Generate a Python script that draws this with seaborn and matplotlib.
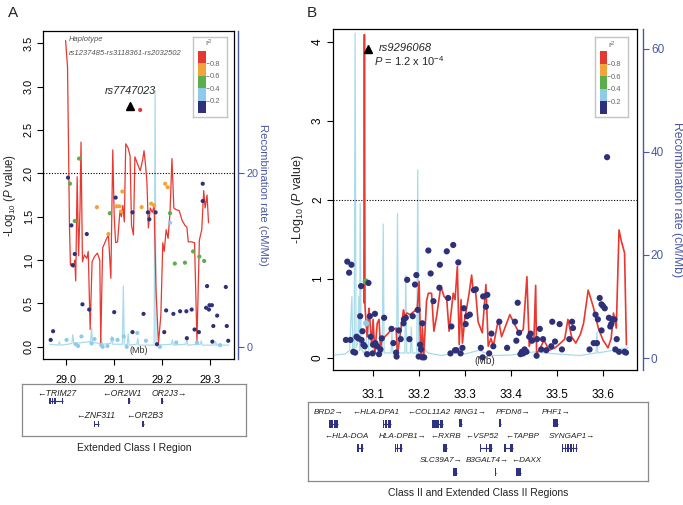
import matplotlib
matplotlib.use("Agg")
import matplotlib.pyplot as plt
import numpy as np
import pandas as pd
import seaborn as sns

# ---------------- panel A : extended class I region ----------------
a_snp_pos = [29.005, 29.009, 29.028, 29.012, 29.019, 29.019, 29.015, 29.065, 29.044, 29.035,
             29.049, 28.969, 28.974, 29.002, 29.021, 29.026, 29.033, 29.054, 29.060, 29.074,
             29.077, 29.087, 29.097, 29.089, 29.092, 29.104, 29.101, 29.108, 29.118, 29.106,
             29.112, 29.115, 29.121, 29.127, 29.139, 29.139, 29.149, 29.162, 29.158, 29.171,
             29.174, 29.167, 29.178, 29.184, 29.187, 29.190, 29.196, 29.205, 29.209, 29.207,
             29.212, 29.217, 29.217, 29.224, 29.230, 29.227, 29.238, 29.248, 29.251, 29.252,
             29.262, 29.265, 29.268, 29.273, 29.277, 29.278, 29.285, 29.285, 29.288, 29.294,
             29.292, 29.298, 29.299, 29.304, 29.305, 29.307, 29.315, 29.321, 29.333, 29.335,
             29.338, 29.155]
a_snp_logp = [1.95, 1.88, 2.17, 1.40, 1.45, 1.07, 0.94, 1.61, 1.30, 0.49,
              0.43, 0.08, 0.18, 0.08, 0.03, 0.01, 0.12, 0.04, 0.09, 0.02,
              0.00, 0.01, 0.09, 1.30, 1.54, 1.72, 0.40, 0.08, 1.79, 1.62,
              1.62, 1.56, 0.12, 0.00, 1.55, 0.17, 0.16, 0.38, 1.61, 1.55,
              1.47, 0.07, 1.65, 1.63, 1.55, 0.03, 0.00, 0.17, 0.42, 1.88,
              1.84, 1.54, 1.43, 0.38, 0.05, 0.96, 0.41, 0.97, 0.41, 0.10,
              0.43, 1.10, 0.20, 0.05, 0.17, 1.04, 1.88, 1.68, 0.99, 0.70,
              0.45, 0.43, 0.48, 0.48, 0.06, 0.24, 0.36, 0.02, 0.69, 0.24,
              0.07, 2.73]
a_snp_r2 = [0.1, 0.5, 0.5, 0.1, 0.5, 0.1, 0.1, 0.7, 0.1, 0.1,
            0.1, 0.1, 0.1, 0.3, 0.3, 0.3, 0.3, 0.3, 0.3, 0.3,
            0.3, 0.3, 0.3, 0.7, 0.5, 0.1, 0.1, 0.3, 0.7, 0.7,
            0.7, 0.7, 0.3, 0.3, 0.1, 0.1, 0.3, 0.1, 0.7, 0.1,
            0.1, 0.3, 0.7, 0.7, 0.1, 0.1, 0.3, 0.1, 0.1, 0.7,
            0.7, 0.5, 0.3, 0.1, 0.3, 0.5, 0.1, 0.5, 0.1, 0.1,
            0.1, 0.5, 0.1, 0.3, 0.1, 0.5, 0.1, 0.1, 0.5, 0.1,
            0.1, 0.1, 0.1, 0.1, 0.1, 0.1, 0.1, 0.3, 0.1, 0.1,
            0.1, 0.9]

a_hap_pos = [29.000, 29.004, 29.008, 29.010, 29.013, 29.016, 29.019, 29.021, 29.024, 29.027,
             29.030, 29.032, 29.035, 29.039, 29.044, 29.047, 29.051, 29.055, 29.060, 29.066,
             29.071, 29.073, 29.077, 29.083, 29.089, 29.094, 29.098, 29.101, 29.104, 29.108,
             29.113, 29.116, 29.119, 29.122, 29.125, 29.130, 29.134, 29.137, 29.141, 29.144,
             29.150, 29.155, 29.160, 29.163, 29.166, 29.169, 29.172, 29.176, 29.180, 29.184,
             29.188, 29.193, 29.198, 29.202, 29.205, 29.209, 29.213, 29.217, 29.221, 29.225,
             29.230, 29.236, 29.242, 29.248, 29.252, 29.255, 29.262, 29.268, 29.273, 29.278,
             29.283, 29.287, 29.290, 29.294, 29.297]
a_hap_logp = [3.53, 3.22, 1.40, 0.94, 0.96, 0.92, 1.00, 0.76, 1.96, 1.05,
              1.60, 2.36, 0.98, 1.06, 1.02, 1.10, 0.20, 0.98, 1.04, 1.08,
              1.00, 0.04, 1.14, 1.22, 1.29, 0.79, 2.27, 1.50, 1.20, 1.21,
              1.57, 1.50, 1.63, 1.44, 2.34, 2.29, 2.20, 1.40, 1.29, 2.19,
              2.10, 2.03, 2.15, 2.26, 2.10, 1.90, 1.37, 1.60, 1.55, 1.62,
              0.64, 0.04, 0.37, 1.20, 1.10, 1.35, 1.25, 1.55, 2.17, 1.60,
              1.58, 1.57, 1.46, 1.40, 1.38, 1.21, 1.21, 1.20, 0.06, 1.23,
              1.35, 1.80, 1.60, 1.75, 1.43]

a_rec_pos = [28.967, 28.985, 28.987, 28.989, 29.005, 29.013, 29.015, 29.017, 29.035, 29.052,
             29.054, 29.056, 29.072, 29.074, 29.076, 29.094, 29.096, 29.098, 29.118, 29.120,
             29.122, 29.128, 29.130, 29.132, 29.148, 29.150, 29.152, 29.184, 29.186, 29.188,
             29.220, 29.222, 29.224, 29.250, 29.252, 29.254, 29.280, 29.282, 29.284, 29.310,
             29.312, 29.314, 29.339]
a_rec_rate = [0.3, 0.2, 0.6, 0.2, 0.3, 0.4, 1.4, 0.4, 0.5, 0.6,
              2.2, 0.5, 0.4, 1.0, 0.3, 0.4, 1.2, 0.3, 0.3, 7.0,
              0.3, 0.2, 1.5, 0.2, 0.3, 1.0, 0.2, 0.2, 29.5, 0.2,
              0.3, 0.8, 0.2, 0.3, 1.0, 0.2, 0.3, 0.7, 0.2, 0.2,
              0.6, 0.2, 0.2]

a_gene_names = ["TRIM27", "OR2W1", "OR2J3", "ZNF311", "OR2B3"]
a_gene_strand = ["-", "-", "+", "-", "-"]
a_gene_row = [0, 0, 0, 1, 1]
a_gene_label_x = [28.982, 29.117, 29.215, 29.063, 29.165]
a_gene_exons = [
    [(28.966, 28.969), (28.972, 28.9745), (28.976, 28.979), (28.9917, 28.994)],
    [(29.130, 29.134)],
    [(29.199, 29.203)],
    [(29.059, 29.061), (29.064, 29.066), (29.068, 29.070)],
    [(29.158, 29.162)],
]

# ---------------- panel B : class II region ----------------
b_snp_pos = [33.042, 33.045, 33.049, 33.054, 33.052, 33.058, 33.062, 33.065, 33.069, 33.073,
             33.075, 33.076, 33.078, 33.080, 33.083, 33.085, 33.086, 33.088, 33.091, 33.094,
             33.096, 33.100, 33.101, 33.105, 33.106, 33.110, 33.114, 33.117, 33.120, 33.125,
             33.141, 33.145, 33.151, 33.152, 33.157, 33.161, 33.167, 33.168, 33.172, 33.175,
             33.180, 33.187, 33.192, 33.195, 33.198, 33.200, 33.203, 33.205, 33.208, 33.208,
             33.212, 33.221, 33.226, 33.232, 33.245, 33.246, 33.261, 33.264, 33.269, 33.271,
             33.275, 33.279, 33.282, 33.286, 33.291, 33.295, 33.298, 33.302, 33.305, 33.311,
             33.320, 33.324, 33.335, 33.339, 33.340, 33.346, 33.349, 33.353, 33.358, 33.362,
             33.375, 33.392, 33.409, 33.412, 33.415, 33.418, 33.421, 33.424, 33.427, 33.430,
             33.434, 33.440, 33.443, 33.446, 33.456, 33.457, 33.463, 33.466, 33.470, 33.477,
             33.488, 33.490, 33.496, 33.506, 33.511, 33.527, 33.533, 33.535, 33.571, 33.580,
             33.587, 33.584, 33.589, 33.593, 33.597, 33.600, 33.604, 33.597, 33.613, 33.616,
             33.618, 33.620, 33.625, 33.627, 33.630, 33.635, 33.647, 33.650, 33.609]
b_snp_logp = [0.23, 1.22, 1.08, 1.18, 0.23, 0.08, 0.07, 0.27, 0.25, 0.53,
              0.91, 0.23, 0.34, 0.17, 0.15, 0.97, 0.44, 0.05, 0.95, 0.53,
              0.27, 0.06, 0.17, 0.56, 0.19, 0.15, 0.05, 0.11, 0.25, 0.51,
              0.37, 0.19, 0.07, 0.02, 0.35, 0.24, 0.44, 0.49, 0.51, 0.99,
              0.24, 0.53, 0.93, 1.05, 0.61, 0.02, 0.17, 0.11, 0.44, 0.01,
              0.01, 1.36, 1.07, 0.72, 0.89, 1.18, 1.35, 0.76, 0.06, 0.40,
              1.43, 0.10, 0.10, 1.21, 0.06, 0.13, 0.63, 0.43, 0.53, 0.55,
              0.86, 0.87, 0.13, 0.01, 0.78, 0.65, 0.80, 0.06, 0.31, 0.15,
              0.46, 0.13, 0.46, 0.22, 0.70, 0.32, 0.05, 0.08, 0.06, 0.11,
              0.08, 0.27, 0.31, 0.22, 0.03, 0.24, 0.37, 0.11, 0.24, 0.10,
              0.15, 0.46, 0.21, 0.43, 0.11, 0.24, 0.46, 0.38, 0.11, 0.19,
              0.19, 0.55, 0.49, 0.76, 0.68, 0.66, 0.63, 0.35, 0.51, 0.40,
              0.43, 0.49, 0.49, 0.11, 0.24, 0.08, 0.08, 0.07, 2.54]
b_snp_r2 = [0.1] * len(b_snp_pos)
b_snp_r2[15] = 0.5
b_snp_r2[16] = 0.3

b_hap_pos = [33.0810, 33.0822, 33.0835, 33.088, 33.092, 33.094, 33.098, 33.101, 33.105, 33.110,
             33.114, 33.117, 33.120, 33.138, 33.151, 33.154, 33.167, 33.170, 33.175, 33.181,
             33.190, 33.197, 33.201, 33.204, 33.206, 33.208, 33.211, 33.217, 33.221, 33.228,
             33.233, 33.239, 33.248, 33.255, 33.261, 33.266, 33.275, 33.279, 33.284, 33.288,
             33.292, 33.295, 33.300, 33.309, 33.315, 33.318, 33.323, 33.329, 33.338, 33.346,
             33.351, 33.357, 33.362, 33.373, 33.380, 33.398, 33.407, 33.418, 33.427, 33.435,
             33.440, 33.445, 33.450, 33.454, 33.456, 33.463, 33.472, 33.483, 33.496, 33.508,
             33.517, 33.524, 33.532, 33.541, 33.551, 33.558, 33.568, 33.579, 33.590, 33.600,
             33.611, 33.618, 33.623, 33.629, 33.635, 33.640, 33.647, 33.651]
b_hap_logp = [0.70, 4.09, 0.65, 0.27, 0.63, 0.49, 0.15, 0.49, 0.06, 0.44,
              0.49, 0.11, 0.23, 0.34, 0.38, 0.04, 0.61, 0.53, 0.57, 0.55,
              0.59, 0.63, 0.97, 0.15, 0.02, 0.40, 0.02, 0.72, 0.82, 0.82,
              0.34, 0.53, 0.91, 0.78, 0.74, 0.34, 0.82, 0.74, 1.16, 0.17,
              0.74, 0.19, 0.49, 0.80, 1.05, 0.86, 0.89, 0.46, 0.32, 0.93,
              0.15, 0.25, 0.15, 0.49, 0.27, 0.55, 0.44, 0.32, 0.36, 1.03,
              0.15, 0.27, 0.21, 0.92, 0.06, 0.11, 0.23, 0.10, 0.13, 0.19,
              0.24, 0.49, 0.27, 0.19, 0.30, 0.44, 0.86, 0.65, 0.38, 0.23,
              0.13, 0.25, 0.57, 0.38, 1.62, 1.48, 1.33, 0.17]

b_rec_pos = [33.018, 33.040, 33.050, 33.055, 33.057, 33.060, 33.062, 33.064, 33.068, 33.070,
             33.072, 33.073, 33.075, 33.080, 33.085, 33.090, 33.092, 33.100, 33.104, 33.106,
             33.121, 33.123, 33.125, 33.140, 33.142, 33.144, 33.152, 33.154, 33.156, 33.170,
             33.172, 33.174, 33.182, 33.184, 33.186, 33.196, 33.198, 33.200, 33.210, 33.220,
             33.250, 33.280, 33.300, 33.330, 33.360, 33.400, 33.450, 33.500, 33.550, 33.585,
             33.587, 33.589, 33.620, 33.655]
b_rec_rate = [0.6, 0.8, 1.5, 12.0, 1.0, 2.0, 63.0, 2.0, 3.0, 12.0,
              1.5, 30.0, 2.0, 1.0, 1.5, 8.0, 1.0, 1.0, 4.0, 1.0,
              1.0, 26.0, 1.0, 1.0, 5.0, 1.0, 1.0, 28.0, 1.0, 1.0,
              16.0, 1.0, 1.0, 6.0, 1.0, 1.0, 36.5, 1.0, 2.0, 1.0,
              0.5, 1.0, 0.8, 1.5, 0.5, 0.6, 1.2, 0.8, 0.5, 1.0,
              5.0, 1.0, 1.5, 2.0]

b_gene_names = ["BRD2", "HLA-DPA1", "COL11A2", "RING1", "PFDN6", "PHF1",
                "HLA-DOA", "HLA-DPB1", "RXRB", "VSP52", "TAPBP", "SYNGAP1",
                "SLC39A7", "B3GALT4", "DAXX"]
b_gene_strand = ["+", "-", "-", "+", "+", "+",
                 "-", "+", "-", "-", "-", "+",
                 "+", "+", "-"]
b_gene_row = [0, 0, 0, 0, 0, 0, 1, 1, 1, 1, 1, 1, 2, 2, 2]
b_gene_label_x = [33.005, 33.108, 33.222, 33.312, 33.405, 33.498,
                  33.043, 33.165, 33.258, 33.338, 33.425, 33.532,
                  33.248, 33.349, 33.4345]
b_gene_exons = [
    [(33.0052, 33.0135), (33.0160, 33.0247)],
    [(33.1223, 33.1250), (33.1280, 33.1305), (33.1345, 33.1397)],
    [(33.2286, 33.2440), (33.2465, 33.2525)],
    [(33.2872, 33.2937)],
    [(33.3745, 33.3790)],
    [(33.4910, 33.5020)],
    [(33.0660, 33.0700), (33.0740, 33.0790)],
    [(33.1480, 33.1505), (33.1535, 33.1560), (33.1600, 33.1640)],
    [(33.2525, 33.2612)],
    [(33.3330, 33.3350), (33.3465, 33.3490), (33.3520, 33.3590)],
    [(33.3850, 33.3895), (33.3980, 33.4040)],
    [(33.5110, 33.5140), (33.5170, 33.5200), (33.5230, 33.5260),
     (33.5290, 33.5320), (33.5350, 33.5380), (33.5410, 33.5440)],
    [(33.2740, 33.2830)],
    [(33.3665, 33.3685)],
    [(33.4110, 33.4220)],
]

R2_EDGES = [0, 0.2, 0.4, 0.6, 0.8, 1.0]
R2_COLORS = ["#2e3179", "#8fcbe8", "#5cad4b", "#f2a33a", "#e23a33"]
RED = "#e8382f"
REC = "#a9dbea"
BLUE = "#4a58a6"
NAVY = "#2e3282"

sns.set_theme(style="ticks")
plt.rcParams["font.family"] = ["Liberation Sans", "DejaVu Sans"]
plt.rcParams["mathtext.fontset"] = "custom"
plt.rcParams["mathtext.rm"] = "Liberation Sans"
plt.rcParams["mathtext.it"] = "Liberation Sans:italic"

W, H = 683, 505


def box(l, t, r, b):
    return [l / W, 1 - b / H, (r - l) / W, (b - t) / H]


def r2_key(fig, frame, bar, title_xy):
    fr = fig.add_axes(box(*frame))
    fr.set_xticks([])
    fr.set_yticks([])
    for s in fr.spines.values():
        s.set_color("#c4c4c4")
        s.set_linewidth(1.0)
    ka = fig.add_axes(box(*bar))
    ka.bar(0.5, 0.2, bottom=R2_EDGES[:-1], width=1.0, color=R2_COLORS, linewidth=0)
    ka.set_xlim(0, 1)
    ka.set_ylim(0, 1)
    ka.set_xticks([])
    ka.set_yticks(R2_EDGES[1:-1])
    ka.set_yticklabels(["0.2", "0.4", "0.6", "0.8"])
    ka.yaxis.tick_right()
    ka.tick_params(axis="y", length=2, width=0.5, pad=1, labelsize=5.5,
                   colors="#666666")
    for s in ka.spines.values():
        s.set_visible(False)
    fig.text(title_xy[0] / W, 1 - title_xy[1] / H, r"r$^2$", fontsize=6,
             color="#666666", ha="center", va="center")


def locus(fig, rect, pos, logp, r2, hap_pos, hap_logp, rec_pos, rec_rate,
          xlim, ylim, rec_scale, rec_ticks, xticks, xfmt, yticks, yfmt,
          dot_size, hap_lw, spine_off, fs, ylab_x, rlab_x, xpad):
    ax = fig.add_axes(box(*rect))
    axr = ax.twinx()
    ax.set_zorder(axr.get_zorder() + 1)
    ax.patch.set_visible(False)

    axr.plot(rec_pos, rec_rate, color=REC, lw=0.9)
    axr.set_ylim(ylim[0] * rec_scale, ylim[1] * rec_scale)
    axr.set_yticks(rec_ticks)
    axr.tick_params(axis="y", colors=BLUE, length=4, width=0.8, labelsize=fs, pad=2)
    for side in ["top", "left", "bottom"]:
        axr.spines[side].set_visible(False)
    axr.spines["right"].set_position(("outward", spine_off))
    axr.spines["right"].set_color(BLUE)
    axr.spines["right"].set_linewidth(1.0)
    axr.set_ylabel("Recombination rate (cM/Mb)", rotation=270, color=BLUE,
                   fontsize=fs + 0.3, va="bottom")
    axr.yaxis.set_label_coords(rlab_x, 0.5)

    ax.axhline(2.0, color="black", lw=0.8, ls=(0, (1, 1.5)))
    sns.lineplot(x=hap_pos, y=hap_logp, ax=ax, color=RED, lw=hap_lw,
                 sort=False, estimator=None)
    df = pd.DataFrame({"pos": pos, "logp": logp, "r2": r2})
    df["bin"] = pd.cut(df["r2"], bins=R2_EDGES, labels=["b0", "b1", "b2", "b3", "b4"]).astype(str)
    pal = dict(zip(["b0", "b1", "b2", "b3", "b4"], R2_COLORS))
    sns.scatterplot(data=df, x="pos", y="logp", hue="bin", palette=pal,
                    s=dot_size, linewidth=0, legend=False, ax=ax, zorder=3)

    ax.set_xlim(*xlim)
    ax.set_ylim(*ylim)
    ax.set_xticks(xticks)
    ax.set_xticklabels([xfmt % v for v in xticks])
    ax.set_yticks(yticks)
    ax.set_yticklabels([yfmt % v for v in yticks], rotation=90, va="center")
    ax.tick_params(direction="out", length=4.5, width=0.8, labelsize=fs, pad=2,
                   colors="black")
    ax.tick_params(axis="x", pad=xpad)
    for s in ax.spines.values():
        s.set_visible(True)
        s.set_color("black")
        s.set_linewidth(0.9)
    ax.set_xlabel("")
    ax.set_ylabel(r"-Log$_{10}$ ($P$ value)", fontsize=fs + 0.5)
    ax.yaxis.set_label_coords(ylab_x, 0.5)
    ax.text(0.5, 0.012, "(Mb)", transform=ax.transAxes, ha="center",
            va="bottom", fontsize=fs - 1.3, color="#333333")
    return ax


def genes(fig, rect, xlim, height, names, strands, rows, label_x, exons,
          text_y0, glyph_y0, step, glyph_h, caption, cap_y, fs):
    g = fig.add_axes(box(*rect))
    g.set_xlim(*xlim)
    g.set_ylim(height, 0)
    g.set_xticks([])
    g.set_yticks([])
    for s in g.spines.values():
        s.set_color("#8a8a8a")
        s.set_linewidth(0.9)
    for name, st, row, lx, ex in zip(names, strands, rows, label_x, exons):
        label = f"\u2190{name}" if st == "-" else f"{name}\u2192"
        g.text(lx, text_y0 + row * step, label, ha="center", va="center",
               fontsize=fs, style="italic", color="#222222")
        gy = glyph_y0 + row * step
        g.hlines(gy, ex[0][0], ex[-1][1], color=NAVY, lw=0.8)
        g.broken_barh([(a, b - a) for a, b in ex], (gy - glyph_h / 2, glyph_h),
                      color=NAVY, linewidth=0)
    g.text(0.5, cap_y, caption, transform=g.transAxes, ha="center", va="center",
           fontsize=7.5, color="#222222")


fig = plt.figure(figsize=(W / 100, H / 100), dpi=100)
fig.patch.set_facecolor("white")

# panel A
axa = locus(fig, (43, 31, 234, 359), a_snp_pos, a_snp_logp, a_snp_r2,
            a_hap_pos, a_hap_logp, a_rec_pos, a_rec_rate,
            (28.953, 29.35), (-0.14, 3.64), 10.0, [0, 20],
            [29.0, 29.1, 29.2, 29.3], "%.1f",
            [0, 0.5, 1.0, 1.5, 2.0, 2.5, 3.0, 3.5], "%.1f",
            9, 0.9, 3, 7.8, -0.13, 1.125, 7)
axa.plot([29.134], [2.78], marker="^", color="black", ms=5.5, ls="none", zorder=4)
axa.text(29.134, 2.95, "rs7747023", ha="center", va="center", fontsize=7.8,
         style="italic")
axa.text(29.007, 3.54, "Haplotype", ha="left", va="center", fontsize=5.5,
         style="italic", color="#555555")
axa.text(29.007, 3.38, "rs1237485-rs3118361-rs2032502", ha="left", va="center",
         fontsize=5.5, style="italic", color="#555555")
r2_key(fig, (193, 37, 227, 117), (198, 51, 206, 113), (209, 43))
genes(fig, (22, 384, 246, 436), (28.909, 29.375), 52,
      a_gene_names, a_gene_strand, a_gene_row, a_gene_label_x, a_gene_exons,
      9, 17, 23, 6, "Extended Class I Region", -0.23, 6.2)
fig.text(8 / W, 1 - 13 / H, "A", fontsize=11, ha="left", va="center")

# panel B
axb = locus(fig, (333, 29, 637, 370), b_snp_pos, b_snp_logp, b_snp_r2,
            b_hap_pos, b_hap_logp, b_rec_pos, b_rec_rate,
            (33.014, 33.674), (-0.15, 4.16), 15.34, [0, 20, 40, 60],
            [33.1, 33.2, 33.3, 33.4, 33.5, 33.6], "%.1f",
            [0, 1, 2, 3, 4], "%d",
            20, 1.2, 4, 8.5, -0.089, 1.112, 9)
axb.plot([33.089], [3.91], marker="^", color="black", ms=6, ls="none", zorder=4)
axb.text(33.114, 3.92, "rs9296068", ha="left", va="center", fontsize=8,
         style="italic")
axb.text(33.103, 3.75, r"$P$ = 1.2 x 10$^{-4}$", ha="left", va="center", fontsize=8)
r2_key(fig, (595, 37, 628, 117), (600, 51, 607, 114), (612, 45))
genes(fig, (308, 402, 648, 481), (32.960, 33.698), 79,
      b_gene_names, b_gene_strand, b_gene_row, b_gene_label_x, b_gene_exons,
      10, 21.5, 24.5, 8, "Class II and Extended Class II Regions", -0.15, 5.9)
fig.text(312 / W, 1 - 13 / H, "B", fontsize=11, ha="center", va="center")

fig.savefig("out.png", dpi=100, facecolor="white")
